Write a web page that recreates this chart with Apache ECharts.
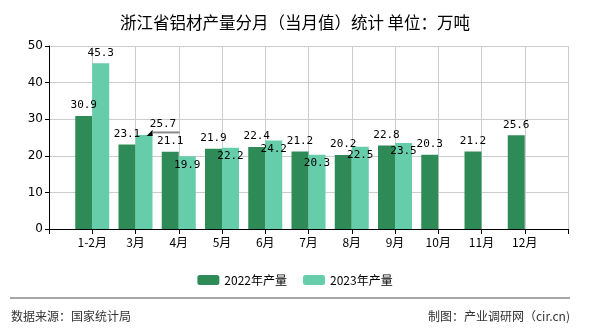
<!DOCTYPE html>
<html>
<head>
<meta charset="utf-8">
<script src="https://cdn.jsdelivr.net/npm/echarts@6/dist/echarts.min.js"></script>
<style>html,body{margin:0;padding:0;background:#fff;}#c{width:590px;height:330px;}</style>
</head>
<body>
<div id="c"></div>
<script>
const titleText = '浙江省铝材产量分月（当月值）统计 单位：万吨';
const categories = ['1-2月', '3月', '4月', '5月', '6月', '7月', '8月', '9月', '10月', '11月', '12月'];
const values2022 = [30.9, 23.1, 21.1, 21.9, 22.4, 21.2, 20.2, 22.8, 20.3, 21.2, 25.6];
const values2023 = [45.3, 25.7, 19.9, 22.2, 24.2, 20.3, 22.5, 23.5, null, null, null];
const seriesNames = ['2022年产量', '2023年产量'];
const yTicks = [0, 10, 20, 30, 40, 50];
const sourceText = '数据来源：国家统计局';
const makerText = '制图：产业调研网（cir.cn)';

const axisData = [''].concat(categories).concat(['']);
const pad = arr => [null].concat(arr).concat([null]);
const labelFont = { fontFamily: 'DejaVu Sans Mono', fontSize: 11, color: '#000' };

const d2022 = pad(values2022);
const d2023 = pad(values2023).map((v, i) => {
  if (v == null) return null;
  if (i === 2) return {
    value: v,
    label: {
      formatter: '{t|{c}}\n{a|◢}{l|}',
      rich: {
        t: { fontFamily: 'DejaVu Sans Mono', fontSize: 11, color: '#000', lineHeight: 13, align: 'center' },
        a: { fontFamily: 'DejaVu Sans', fontSize: 8, color: '#000', height: 3, lineHeight: 3, verticalAlign: 'bottom' },
        l: { width: 27, height: 2, backgroundColor: '#888' }
      }
    }
  };
  return v;
});

const chart = echarts.init(document.getElementById('c'), null, { renderer: 'canvas' });
chart.setOption({
  animation: false,
  backgroundColor: '#fff',
  title: {
    text: titleText, left: 'center', top: 9,
    textStyle: { fontFamily: 'Noto Sans CJK SC', fontSize: 16.5, fontWeight: 'normal', color: '#000' }
  },
  legend: {
    data: seriesNames, top: 269, left: 'center', itemWidth: 22, itemHeight: 10, itemGap: 16,
    textStyle: { fontFamily: 'Noto Sans CJK SC', fontSize: 12, color: '#000' }
  },
  grid: { left: 49, right: 22, top: 46, bottom: 101, containLabel: false },
  xAxis: {
    type: 'category', data: axisData, boundaryGap: false,
    axisLine: { lineStyle: { color: '#000', width: 1 } },
    axisTick: { show: true, interval: 0, length: 5, lineStyle: { color: '#000' } },
    axisLabel: { interval: 0, margin: 7, fontFamily: 'Noto Sans CJK SC', fontSize: 12, color: '#000' },
    splitLine: { show: true, interval: 0, lineStyle: { color: '#ccc' } }
  },
  yAxis: {
    type: 'value', min: yTicks[0], max: yTicks[yTicks.length - 1], interval: 10,
    axisLine: { show: true, lineStyle: { color: '#000' } },
    axisTick: { show: true, length: 4, lineStyle: { color: '#000' } },
    axisLabel: { fontFamily: 'DejaVu Sans', fontSize: 12, color: '#000', margin: 6 },
    splitLine: { show: true, lineStyle: { color: '#ccc' } }
  },
  series: [
    {
      name: seriesNames[0], type: 'bar', data: d2022, barWidth: 17, barGap: '0%',
      itemStyle: { color: '#2E8B57' },
      label: Object.assign({ show: true, position: 'top', distance: 5 }, labelFont)
    },
    {
      name: seriesNames[1], type: 'bar', data: d2023, barWidth: 17, barGap: '0%',
      itemStyle: { color: '#66CDAA' },
      label: Object.assign({ show: true, position: 'top', distance: 5 }, labelFont),
      labelLine: { show: false },
      labelLayout: function (p) {
        if (p.dataIndex === 2) return { dx: 19, dy: 4 };
        if (p.dataIndex >= 3) return { dy: 19 };
        return {};
      }
    }
  ],
  graphic: [
    { type: 'line', shape: { x1: 10, y1: 298, x2: 570, y2: 298 }, style: { stroke: '#888', lineWidth: 1.5 } },
    { type: 'text', left: 11, top: 310, style: { text: sourceText, font: '12px "Noto Sans CJK SC"', fill: '#333' } },
    { type: 'text', right: 20, top: 310, style: { text: makerText, font: '12px "Noto Sans CJK SC"', fill: '#333' } }
  ]
});
</script>
</body>
</html>
